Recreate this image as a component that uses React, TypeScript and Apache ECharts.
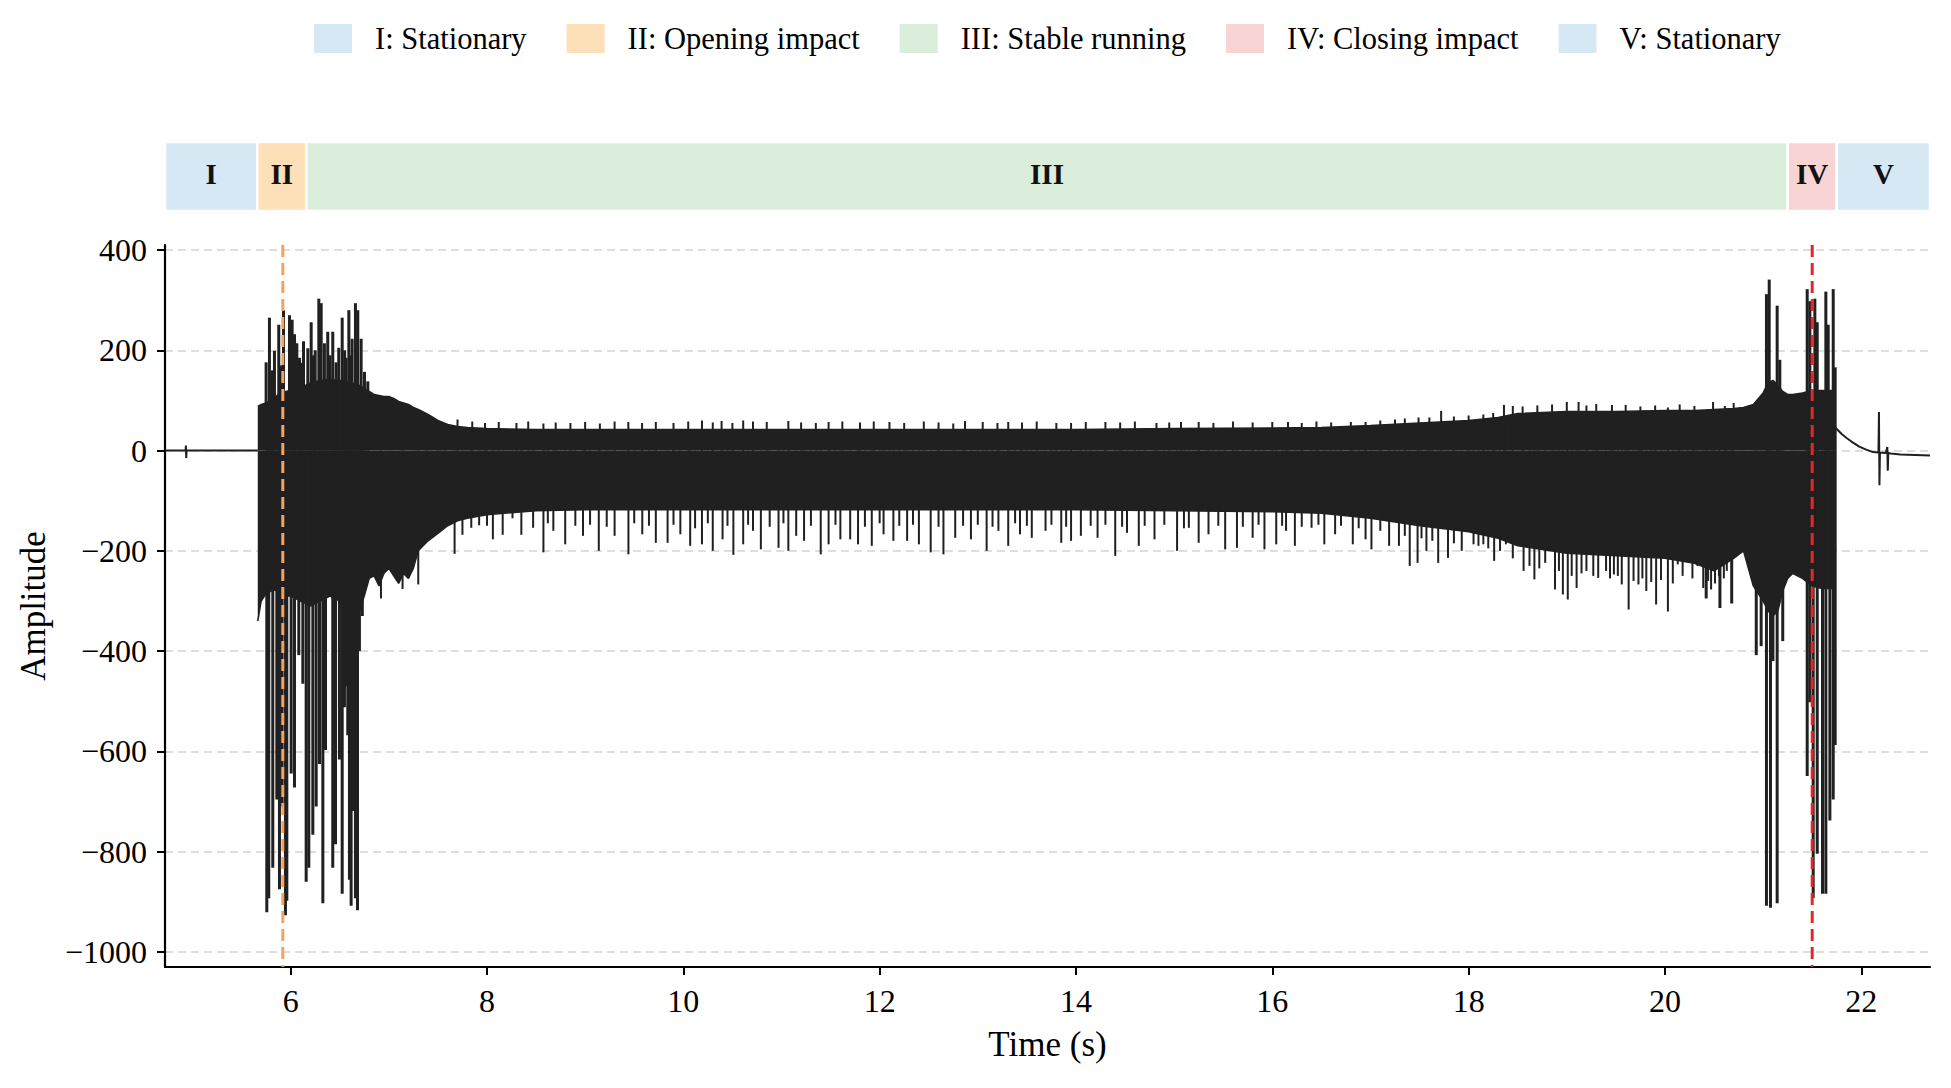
import React, { useEffect, useRef } from 'react';
import * as echarts from 'echarts';

const SERIF = 'Liberation Serif';

// phase bar
const phaseNames = ['I', 'II', 'III', 'IV', 'V'];
const phaseLegend = ['I: Stationary', 'II: Opening impact', 'III: Stable running', 'IV: Closing impact', 'V: Stationary'];
const phaseStart = [4.72, 5.66, 6.16, 21.25, 21.75];
const phaseEnd = [5.66, 6.16, 21.25, 21.75, 22.7];
const phaseColors = ['#d7e8f5', '#fddfb8', '#dbeedb', '#f8d4d5', '#d7e8f5'];

// event markers
const openingMark = 5.92;
const closingMark = 21.5;

const xTicks = [6, 8, 10, 12, 14, 16, 18, 20, 22];
const yTicks = [-1000, -800, -600, -400, -200, 0, 200, 400];

// quiet parts before / after the motion
const preT = [4.72, 4.93, 4.933, 4.936, 4.94, 5.665];
const preV = [0, 0, 10, -15, 0, 0];
const postT = [21.74, 21.8, 21.85, 21.9, 21.98, 22.05, 22.12, 22.175, 22.18, 22.185, 22.19, 22.25, 22.265, 22.27, 22.275, 22.3, 22.4, 22.55, 22.7];
const postV = [45, 33, 25, 18, 8, 2, -3, -4, 77, -69, -4, -5, 7, -40, -5, -6, -8, -9, -10];

// body envelope of the vibration signal
const envT = [5.665, 5.7, 5.75, 5.8, 5.85, 5.9, 5.95, 6.0, 6.1, 6.2, 6.3, 6.4, 6.5, 6.55, 6.6, 6.65, 6.7, 6.75, 6.8, 6.85, 6.9, 6.95, 7.0, 7.05, 7.1, 7.15, 7.2, 7.25, 7.3, 7.4, 7.5, 7.6, 7.7, 7.8, 8.0, 8.5, 9, 10, 11, 12, 13, 14, 15, 16, 16.5, 17, 17.5, 18, 18.3, 18.5, 19, 19.5, 20, 20.3, 20.5, 20.7, 20.8, 20.9, 21.0, 21.05, 21.1, 21.15, 21.2, 21.25, 21.3, 21.4, 21.5, 21.6, 21.7, 21.74];
const envUpper = [88, 92, 95, 100, 108, 115, 118, 120, 125, 135, 140, 142, 140, 138, 136, 134, 130, 124, 118, 112, 110, 108, 108, 104, 98, 95, 92, 86, 82, 72, 60, 52, 48, 46, 44, 42, 42, 42, 42, 42, 42, 42, 44, 45, 46, 50, 55, 60, 66, 74, 78, 78, 80, 80, 82, 84, 86, 92, 115, 135, 140, 130, 118, 112, 112, 115, 120, 120, 120, 118];
const envLower = [-340, -300, -285, -280, -278, -285, -290, -290, -300, -310, -300, -290, -300, -330, -350, -340, -320, -290, -255, -250, -270, -245, -235, -250, -265, -245, -255, -235, -200, -180, -165, -150, -140, -135, -128, -120, -118, -118, -118, -118, -118, -118, -120, -122, -125, -135, -150, -162, -175, -190, -205, -210, -215, -225, -240, -215, -200, -270, -300, -320, -330, -320, -280, -255, -245, -255, -270, -275, -275, -270];

// impact peaks [time, amplitude]
const openingPeaks = [
  [5.75, 176], [5.784, 265], [5.835, 199], [5.879, 251], [5.927, 280], [5.988, 270], [6.015, 261], [6.039, 232],
  [6.063, 214], [6.09, 185], [6.131, 218], [6.175, 204], [6.209, 256], [6.232, 190], [6.287, 303], [6.311, 294],
  [6.344, 214], [6.378, 237], [6.429, 237], [6.463, 176], [6.525, 265], [6.565, 185], [6.593, 280], [6.626, 223],
  [6.66, 294], [6.684, 280], [6.718, 223], [6.752, 157], [6.786, 138],
  [5.81, 160], [5.9, 170], [6.11, 175], [6.25, 200], [6.4, 190], [6.49, 205], [6.55, 200], [6.61, 190],
  [5.757, -921], [5.777, -893], [5.818, -832], [5.859, -696], [5.886, -875], [5.913, -710], [5.947, -927], [5.961, -898],
  [6.005, -644], [6.039, -672], [6.083, -408], [6.124, -465], [6.158, -860], [6.185, -832], [6.226, -766], [6.26, -710],
  [6.294, -625], [6.328, -903], [6.355, -597], [6.429, -832], [6.457, -785], [6.497, -616], [6.525, -884], [6.548, -512],
  [6.582, -568], [6.599, -856], [6.616, -908], [6.64, -719], [6.66, -893], [6.681, -917], [6.694, -399],
  [6.56, -470], [6.63, -520], [6.7, -400], [6.73, -330],
];

const closingPeaks = [
  [20.42, -295], [20.56, -314], [20.68, -305], [20.93, -408], [20.98, -390], [21.1, -420], [21.2, -380],
  [21.034, 312], [21.062, 341], [21.143, 289], [21.17, 181], [21.449, 322], [21.476, 298], [21.527, 303], [21.551, 256],
  [21.639, 317], [21.663, 251], [21.714, 322], [21.734, 166],
  [21.034, -908], [21.075, -912], [21.143, -903], [21.449, -649], [21.476, -502], [21.51, -893], [21.551, -804],
  [21.605, -884], [21.639, -884], [21.68, -738], [21.714, -696], [21.734, -587],
];

// fringe of the stable-running part [time, amplitude]
const stableLowPeaks = [
  [6.92, -295], [7.14, -276], [7.3, -267], [7.38, -154], [7.5, -163], [7.58, -135], [7.67, -206], [7.75, -168],
  [7.84, -154], [7.92, -149], [8.0, -150], [8.06, -177], [8.16, -168], [8.26, -135], [8.35, -168], [8.47, -154], [8.575, -203],
  [8.62, -145], [8.676, -160], [8.797, -187], [8.9, -150], [8.978, -170], [9.05, -148], [9.139, -200], [9.22, -152],
  [9.3, -170], [9.441, -207], [9.5, -145], [9.582, -167], [9.65, -150], [9.72, -184], [9.84, -184], [9.9, -148],
  [9.97, -167], [10.07, -190], [10.12, -155], [10.19, -187], [10.25, -145], [10.3, -200], [10.4, -177], [10.45, -150],
  [10.51, -208], [10.61, -187], [10.66, -148], [10.71, -160], [10.79, -197], [10.88, -152], [10.97, -194], [11.02, -145],
  [11.07, -200], [11.15, -170], [11.23, -180], [11.3, -150], [11.4, -207], [11.48, -187], [11.55, -148], [11.6, -177],
  [11.7, -177], [11.78, -187], [11.85, -152], [11.92, -190], [12.0, -145], [12.04, -167], [12.14, -180], [12.2, -150],
  [12.28, -180], [12.34, -148], [12.4, -187], [12.52, -203], [12.6, -152], [12.65, -207], [12.77, -174], [12.85, -150],
  [12.93, -177], [13.0, -148], [13.09, -200], [13.15, -152], [13.21, -160], [13.31, -190], [13.38, -145], [13.43, -167],
  [13.5, -150], [13.55, -174], [13.69, -160], [13.75, -148], [13.85, -184], [13.9, -152], [13.95, -180], [14.05, -170],
  [14.15, -150], [14.22, -174], [14.3, -148], [14.4, -210], [14.47, -152], [14.52, -164], [14.64, -190], [14.7, -150],
  [14.8, -177], [14.9, -148], [15.03, -200], [15.1, -155], [15.15, -154], [15.25, -184], [15.35, -167], [15.45, -150],
  [15.52, -197], [15.64, -194], [15.7, -152], [15.8, -174], [15.86, -148], [15.92, -197], [16.04, -187], [16.1, -150],
  [16.14, -160], [16.23, -190], [16.3, -152], [16.4, -154], [16.47, -148], [16.53, -187], [16.64, -167], [16.7, -150],
  [16.82, -187], [16.88, -155], [16.95, -177], [17.01, -197], [17.1, -160], [17.19, -190], [17.29, -190], [17.35, -170],
  [17.4, -230], [17.48, -224], [17.52, -175], [17.57, -200], [17.63, -180], [17.69, -224], [17.79, -214], [17.85, -185],
  [17.93, -200], [18.05, -187], [18.1, -190], [18.15, -187], [18.2, -195], [18.26, -220], [18.32, -200], [18.38, -187],
  [18.45, -215], [18.56, -240], [18.62, -230], [18.67, -257], [18.72, -235], [18.78, -224], [18.88, -277], [18.92, -240],
  [18.96, -287], [19.01, -297], [19.05, -250], [19.1, -274], [19.15, -245], [19.2, -240], [19.27, -250], [19.32, -254],
  [19.4, -240], [19.44, -255], [19.48, -247], [19.52, -250], [19.56, -267], [19.63, -317], [19.68, -260], [19.73, -267],
  [19.77, -255], [19.81, -280], [19.86, -262], [19.91, -307], [19.96, -258], [20.03, -321], [20.08, -265], [20.13, -227],
  [20.18, -250], [20.23, -220], [20.28, -255], [20.33, -230], [20.39, -274], [20.44, -260], [20.47, -277], [20.51, -265],
  [20.55, -250], [20.6, -255], [20.63, -240],
];

const stableHighPeaks = [
  [7.7, 62], [7.85, 58], [7.98, 55], [8.12, 57], [8.3, 55], [8.42, 58], [8.575, 54], [8.7, 56], [8.85, 55], [9.0, 57],
  [9.15, 54], [9.3, 58], [9.44, 57], [9.58, 55], [9.72, 57], [9.9, 55], [10.05, 58], [10.19, 60], [10.3, 56], [10.39, 59],
  [10.5, 55], [10.61, 60], [10.71, 58], [10.85, 57], [11.07, 59], [11.2, 56], [11.35, 55], [11.48, 57], [11.62, 58],
  [11.8, 56], [11.94, 58], [12.1, 57], [12.25, 55], [12.45, 58], [12.6, 56], [12.75, 54], [12.87, 59], [13.05, 57],
  [13.2, 55], [13.31, 57], [13.45, 56], [13.6, 58], [13.8, 55], [13.95, 55], [14.1, 57], [14.3, 57], [14.45, 56],
  [14.6, 58], [14.82, 55], [14.95, 56], [15.07, 57], [15.25, 57], [15.4, 55], [15.6, 58], [15.8, 56], [16.0, 57],
  [16.16, 57], [16.3, 55], [16.45, 58], [16.6, 56], [16.8, 57], [16.95, 57], [17.1, 60], [17.25, 62], [17.35, 64],
  [17.49, 66], [17.6, 66], [17.72, 79], [17.85, 68], [18.0, 70], [18.15, 72], [18.25, 75], [18.36, 91], [18.45, 89],
  [18.55, 88], [18.7, 90], [18.85, 92], [19.0, 97], [19.12, 97], [19.2, 90], [19.3, 93], [19.46, 91], [19.6, 91],
  [19.75, 88], [19.9, 90], [20.03, 86], [20.15, 92], [20.3, 89], [20.49, 97], [20.61, 89], [20.7, 95],
];

const SIGNAL = '#202020';

// layout (page pixels)
const PLOT_LEFT = 165;
const PLOT_RIGHT = 21;
const PLOT_TOP = 245;
const PLOT_BOTTOM = 121;
const X_MIN = 4.72;
const X_MAX = 22.7;
const Y_MIN = -1030;
const Y_MAX = 410;

const minus = (v: number) => (v < 0 ? '\u2212' + Math.abs(v) : String(v));

function peakSeries(data: number[][], width: number) {
  return {
    type: 'custom',
    clip: true,
    data,
    renderItem: (_p: any, api: any) => {
      const t = api.value(0);
      const a = api.coord([t, 0]);
      const b = api.coord([t, api.value(1)]);
      return {
        type: 'line',
        shape: { x1: a[0], y1: a[1], x2: b[0], y2: b[1] },
        style: { stroke: SIGNAL, lineWidth: width },
      };
    },
    z: 4,
  };
}

function buildOption(): any {
  const phaseSeries = phaseNames.map((label, i) => ({
    name: phaseLegend[i],
    type: 'custom',
    xAxisIndex: 1,
    yAxisIndex: 1,
    itemStyle: { color: phaseColors[i] },
    data: [[phaseStart[i], phaseEnd[i]]],
    encode: { x: [0, 1] },
    renderItem: (_p: any, api: any) => {
      const a = api.coord([api.value(0), 1]);
      const b = api.coord([api.value(1), 0]);
      return {
        type: 'group',
        children: [
          {
            type: 'rect',
            shape: { x: a[0], y: a[1], width: b[0] - a[0], height: b[1] - a[1] },
            style: { fill: phaseColors[i], stroke: '#ffffff', lineWidth: 2.5 },
          },
          {
            type: 'text',
            style: {
              text: label,
              x: (a[0] + b[0]) / 2,
              y: (a[1] + b[1]) / 2 - 3,
              align: 'center',
              verticalAlign: 'middle',
              fontFamily: SERIF,
              fontSize: 29,
              fontWeight: 'bold',
              fill: '#111',
            },
          },
        ],
      };
    },
  }));

  const axisLineStyle = { color: '#000', width: 2.2 };

  return {
    animation: false,
    backgroundColor: '#ffffff',
    legend: {
      data: phaseLegend,
      top: 18,
      left: 309,
      icon: 'rect',
      itemWidth: 38,
      itemHeight: 29,
      itemGap: 40,
      textStyle: { fontFamily: SERIF, fontSize: 30.5, color: '#000', padding: [0, 0, 0, 18] },
    },
    grid: [
      { left: PLOT_LEFT, right: PLOT_RIGHT, top: PLOT_TOP, bottom: PLOT_BOTTOM },
      { left: PLOT_LEFT, right: PLOT_RIGHT, top: 142, height: 69 },
    ],
    xAxis: [
      {
        type: 'value',
        gridIndex: 0,
        min: X_MIN,
        max: X_MAX,
        name: 'Time (s)',
        nameLocation: 'middle',
        nameGap: 60,
        nameTextStyle: { fontFamily: SERIF, fontSize: 35, color: '#000' },
        axisLine: { show: true, onZero: false, lineStyle: axisLineStyle },
        axisTick: { show: true, customValues: xTicks, length: 8, lineStyle: { color: '#000', width: 2 } },
        axisLabel: { customValues: xTicks, margin: 18, fontFamily: SERIF, fontSize: 32, color: '#000' },
        splitLine: { show: false },
      },
      { type: 'value', gridIndex: 1, min: X_MIN, max: X_MAX, show: false },
    ],
    yAxis: [
      {
        type: 'value',
        gridIndex: 0,
        min: Y_MIN,
        max: Y_MAX,
        name: 'Amplitude',
        nameLocation: 'middle',
        nameGap: 114,
        nameTextStyle: { fontFamily: SERIF, fontSize: 35, color: '#000' },
        axisLine: { show: true, onZero: false, lineStyle: axisLineStyle },
        axisTick: { show: true, customValues: yTicks, length: 8, lineStyle: { color: '#000', width: 2 } },
        axisLabel: { customValues: yTicks, margin: 18, fontFamily: SERIF, fontSize: 32, color: '#000', formatter: minus },
        splitLine: { show: true, lineStyle: { color: '#d4d4d4', width: 1.5, type: [8, 5] } },
      },
      { type: 'value', gridIndex: 1, min: 0, max: 1, show: false },
    ],
    series: [
      ...phaseSeries,
      {
        type: 'line',
        data: preT.map((t, i) => [t, preV[i]]),
        showSymbol: false,
        lineStyle: { color: SIGNAL, width: 2 },
        z: 3,
      },
      {
        type: 'line',
        data: postT.map((t, i) => [t, postV[i]]),
        showSymbol: false,
        lineStyle: { color: SIGNAL, width: 2 },
        z: 3,
      },
      {
        type: 'line',
        data: envT.map((t, i) => [t, envUpper[i]]),
        showSymbol: false,
        lineStyle: { color: SIGNAL, width: 1.5 },
        areaStyle: { color: SIGNAL, opacity: 1 },
        z: 3,
      },
      {
        type: 'line',
        data: envT.map((t, i) => [t, envLower[i]]),
        showSymbol: false,
        lineStyle: { color: SIGNAL, width: 1.5 },
        areaStyle: { color: SIGNAL, opacity: 1 },
        z: 3,
      },
      peakSeries([...stableLowPeaks, ...stableHighPeaks], 2),
      peakSeries([...openingPeaks, ...closingPeaks], 3),
      {
        type: 'line',
        data: [[openingMark, Y_MAX], [openingMark, Y_MIN]],
        showSymbol: false,
        lineStyle: { color: '#f5a35c', width: 3, type: [12, 6] },
        z: 6,
      },
      {
        type: 'line',
        data: [[closingMark, Y_MAX], [closingMark, Y_MIN]],
        showSymbol: false,
        lineStyle: { color: '#e3262b', width: 3, type: [12, 6] },
        z: 6,
      },
    ],
  };
}

export default function App() {
  const chartRef = useRef<HTMLDivElement>(null);

  useEffect(() => {
    if (!chartRef.current) return;
    const chart = echarts.init(chartRef.current, undefined, { renderer: 'svg' });
    chart.setOption(buildOption());
    const onResize = () => chart.resize();
    window.addEventListener('resize', onResize);
    return () => {
      window.removeEventListener('resize', onResize);
      chart.dispose();
    };
  }, []);

  return (
    <div
      ref={chartRef}
      style={{ position: 'fixed', left: 0, top: 0, width: '100vw', height: '100vh', background: '#fff' }}
    />
  );
}
